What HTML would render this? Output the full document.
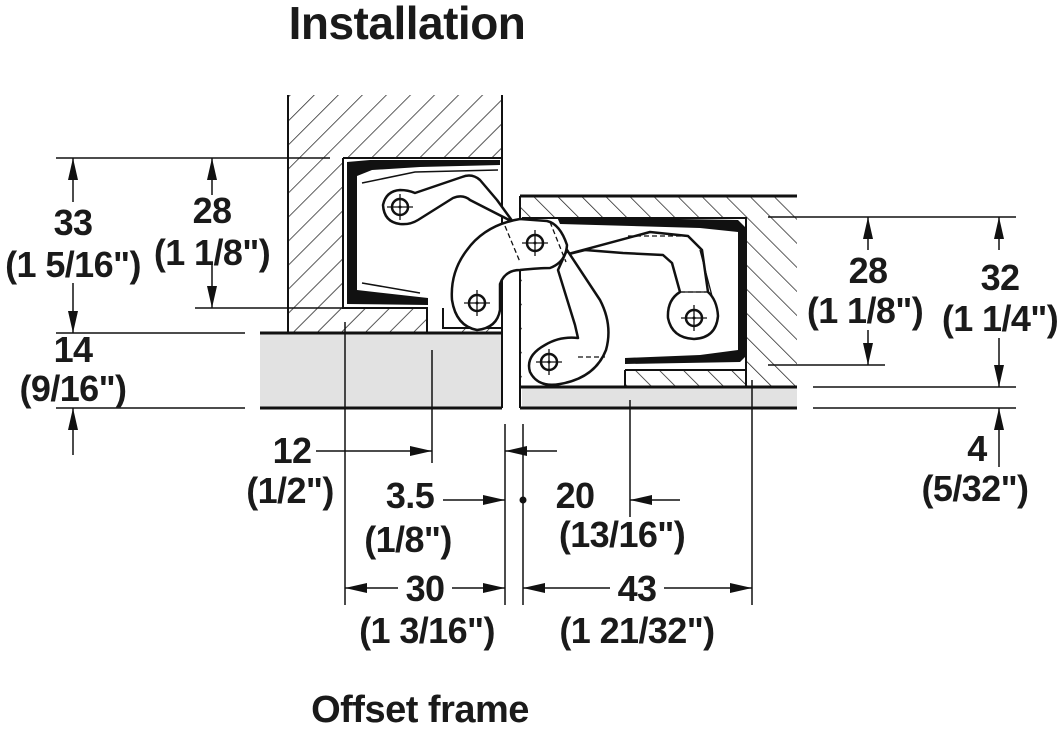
<!DOCTYPE html>
<html><head><meta charset="utf-8"><style>
html,body{margin:0;padding:0;background:#fff;}
svg{display:block;}
text{font-family:"Liberation Sans",Arial,sans-serif;font-weight:bold;fill:#1a1a1a;text-anchor:middle;}
</style></head><body>
<svg width="1062" height="730" viewBox="0 0 1062 730" xmlns="http://www.w3.org/2000/svg">
<defs>
<pattern id="hl" patternUnits="userSpaceOnUse" width="17" height="17" patternTransform="rotate(45)">
<line x1="0" y1="0" x2="0" y2="17" stroke="#222" stroke-width="1.5"/></pattern>
<pattern id="hr" patternUnits="userSpaceOnUse" width="17" height="17" patternTransform="rotate(-45)">
<line x1="0" y1="0" x2="0" y2="17" stroke="#222" stroke-width="1.5"/></pattern>
<marker id="a" viewBox="0 0 22 10" refX="22" refY="5" markerWidth="22" markerHeight="10" markerUnits="userSpaceOnUse" orient="auto">
<path d="M0,0 L22,5 L0,10 Z" fill="#111"/></marker>
</defs>

<text x="407" y="39" font-size="46" letter-spacing="-0.5">Installation</text>
<text x="420" y="722" font-size="38" letter-spacing="-0.5">Offset frame</text>

<!-- gray strips -->
<rect x="260" y="333" width="242" height="75" fill="#e2e2e2"/>
<rect x="522" y="387" width="275" height="21" fill="#e2e2e2"/>

<!-- left wall -->
<rect x="288" y="95" width="214" height="238" fill="url(#hl)"/>
<path d="M343,158 L502,158 L502,328 L443,328 L443,333 L427,333 L427,308 L343,308 Z" fill="#fff"/>
<g fill="none" stroke="#111" stroke-width="2">
<path d="M288,95 L288,333 M502,95 L502,408"/>
<path d="M343,158 L502,158 M343,158 L343,308 L427,308 L427,333 M443,308 L443,328 L502,328"/>
</g>
<path d="M260,333 L502,333 M260,408 L502,408" stroke="#111" stroke-width="3"/>

<!-- right block -->
<rect x="520" y="196" width="277" height="191" fill="url(#hr)"/>
<path d="M522,218 L746,218 L746,370 L625,370 L625,386 L522,386 Z" fill="#fff"/>
<g fill="none" stroke="#111" stroke-width="2">
<path d="M520,196 L520,408 M522,218 L746,218 L746,386 M625,370 L746,370 M625,370 L625,386"/>
</g>
<path d="M520,196 L797,196 M520,387 L797,387 M520,408 L797,408" stroke="#111" stroke-width="3"/>

<!-- left cup black -->
<path d="M347,162 L370,160 L500,160 L500,165 L420,167 L372,170 L357,176 L357,290 L428,298 L428,305 L347,304 Z" fill="#111"/>
<path d="M362,183 L415,172 L498,170 M362,283 L420,293" fill="none" stroke="#111" stroke-width="1.5"/>
<!-- right cup black -->
<path d="M557,217 L738,220 L746,228 L746,356 L740,362 L625,364 L625,358 L700,355 L738,350 L738,232 L700,228 L560,224 Z" fill="#111"/>

<!-- arms -->
<g fill="#fff" stroke="#111" stroke-width="2.5" stroke-linejoin="round">
<path d="M557,257 L585,250 L623,253 L663,255 L672,263 L680,292 Q667,300 668,318 Q672,338 694,339 Q716,338 718,316 Q717,300 708,292 L702,250 L688,236 L650,232 Z"/>
<path d="M400,190 Q386,191 383,205 Q384,222 400,224 Q410,225 418,220 L453,198 Q463,194 470,200 L513,222 L497,200 L480,180 Q472,173 462,177 L415,193 Q408,190 400,190 Z"/>
<path d="M520,219 Q485,225 467,250 Q450,272 452,300 Q456,326 477,330 Q497,328 500,310 L500,284 Q505,270 520,270 Q540,268 550,268 Q566,262 567,245 Q560,224 547,221 Z"/>
<path d="M558,270 L575,325 L578,338 Q560,336 545,345 Q525,356 530,372 Q538,388 560,384 Q595,378 606,350 Q613,325 600,300 L567,250 Z"/>
</g>
<g fill="none" stroke="#111" stroke-width="1.3">
<path d="M700,250 L712,296 M680,292 L708,292" />
</g>
<g fill="none" stroke="#111" stroke-width="1.3" stroke-dasharray="5,3">
<path d="M505,226 L520,262 M550,222 L566,262 M578,357 L605,357 M628,236 L690,236 M680,292 L708,292"/>
</g>
<g fill="#fff" stroke="#111" stroke-width="2.5">
<circle cx="400" cy="207" r="8"/><circle cx="535" cy="243" r="8"/><circle cx="477" cy="303" r="8"/><circle cx="694" cy="318" r="8"/><circle cx="549" cy="362" r="8"/>
</g>
<g stroke="#111" stroke-width="1.3">
<path d="M387,207 H413 M400,194 V220 M522,243 H548 M535,230 V256 M464,303 H490 M477,290 V316 M681,318 H707 M694,305 V331 M536,362 H562 M549,349 V375"/>
</g>
<g fill="#111"><circle cx="400" cy="207" r="1.5"/><circle cx="535" cy="243" r="1.5"/><circle cx="477" cy="303" r="1.5"/><circle cx="694" cy="318" r="1.5"/><circle cx="549" cy="362" r="1.5"/></g>

<!-- extension lines -->
<g stroke="#111" stroke-width="1.5" fill="none">
<path d="M56,158 L330,158 M195,308 L343,308 M56,333 L245,333 M56,408 L245,408"/>
<path d="M768,217 L1016,217 M768,365 L885,365 M813,387 L1016,387 M813,408 L1016,408"/>
<path d="M345,322 L345,605 M432,350 L432,463 M505,424 L505,605 M523,424 L523,605 M630,400 L630,517 M752,380 L752,605"/>
</g>
<g stroke="#111" stroke-width="1.5" fill="none" marker-end="url(#a)">
<line x1="73" y1="202" x2="73" y2="158"/>
<line x1="73" y1="283" x2="73" y2="333"/>
<line x1="73" y1="455" x2="73" y2="408"/>
<line x1="212" y1="195" x2="212" y2="158"/>
<line x1="212" y1="265" x2="212" y2="308"/>
<line x1="868" y1="250" x2="868" y2="217"/>
<line x1="868" y1="330" x2="868" y2="365"/>
<line x1="999" y1="250" x2="999" y2="217"/>
<line x1="999" y1="338" x2="999" y2="387"/>
<line x1="999" y1="467" x2="999" y2="408"/>
<line x1="316" y1="451" x2="432" y2="451"/>
<line x1="443" y1="500" x2="505" y2="500"/>
<line x1="557" y1="451" x2="505" y2="451"/>
<line x1="680" y1="500" x2="630" y2="500"/>
<line x1="398" y1="588" x2="345" y2="588"/>
<line x1="452" y1="588" x2="505" y2="588"/>
<line x1="610" y1="588" x2="523" y2="588"/>
<line x1="664" y1="588" x2="752" y2="588"/>
</g>
<circle cx="523" cy="500" r="3.5" fill="#111"/>

<g font-size="36" letter-spacing="-0.6">
<text x="73" y="235">33</text><text x="73" y="277">(1 5/16")</text>
<text x="212" y="223">28</text><text x="212" y="265">(1 1/8")</text>
<text x="73" y="362">14</text><text x="73" y="401">(9/16")</text>
<text x="292" y="463">12</text><text x="290" y="503">(1/2")</text>
<text x="410" y="508">3.5</text><text x="408" y="552">(1/8")</text>
<text x="575" y="508">20</text><text x="622" y="547">(13/16")</text>
<text x="425" y="601">30</text><text x="427" y="643">(1 3/16")</text>
<text x="637" y="601">43</text><text x="637" y="643">(1 21/32")</text>
<text x="868" y="283">28</text><text x="865" y="323">(1 1/8")</text>
<text x="1000" y="290">32</text><text x="1000" y="331">(1 1/4")</text>
<text x="977" y="461">4</text><text x="975" y="501">(5/32")</text>
</g>
</svg>
</body></html>
